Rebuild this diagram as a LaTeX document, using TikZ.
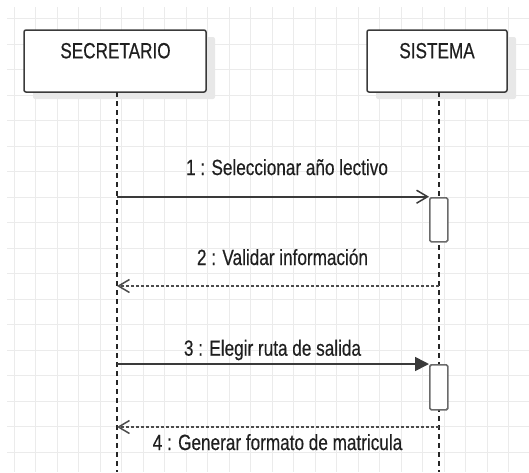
\documentclass[tikz,border=0pt]{standalone}
\usepackage{fontspec}
\setmainfont{Liberation Sans}[FakeStretch=0.78,FakeBold=0.4]
\usetikzlibrary{arrows.meta}
\definecolor{gridc}{HTML}{EBEBEB}
\definecolor{linec}{HTML}{3A3A3A}
\definecolor{actc}{HTML}{6A6A6A}
\definecolor{txtc}{HTML}{1F1F1F}
\tikzset{
  actor/.style={draw=linec, line width=1.5pt, fill=white, rounded corners=2pt},
  shadowbox/.style={fill=black!9, draw=none, rounded corners=2pt},
  lifeline/.style={draw=black!85, line width=1.3pt, dash pattern=on 5pt off 4pt},
  actbox/.style={draw=actc, line width=1.6pt, fill=white, rounded corners=1.5pt},
  msg/.style={draw=linec, line width=1.6pt},
  ret/.style={draw=black!70, line width=1.4pt, dash pattern=on 3pt off 2pt},
  openhead/.style={-{Straight Barb[length=11pt,width=13pt,line width=1.5pt]}},
  fullhead/.style={-{Triangle[length=14pt,width=14pt]}},
  lbl/.style={anchor=base, inner sep=0pt, text=txtc, font=\fontsize{22}{26}\selectfont},
}
\begin{document}
\begin{tikzpicture}[x=1pt, y=-1pt]
\useasboundingbox (0,0) rectangle (529,472);
% grid
\foreach \k in {0,...,24} {\draw[gridc, line width=0.9pt] ({14+21.5*\k},7) -- ({14+21.5*\k},472);}
\foreach \k in {0,...,17} {\draw[gridc, line width=0.9pt] (7,{18.7+25.5*\k}) -- (529,{18.7+25.5*\k});}
% shadows
\fill[shadowbox] (33,37) rectangle (215,99);
\fill[shadowbox] (376,37) rectangle (516,99);
% actors
\draw[actor] (24,30) rectangle (206,92);
\draw[actor] (367,30) rectangle (507,92);
\node[lbl] (secl) at (115.5,58.3) {SECRETARIO};
\node[lbl] (sisl) at (437,58.3) {SISTEMA};
% lifelines
\coordinate (sectop) at (117,92);
\coordinate (secbot) at (117,472);
\coordinate (sistop) at (439,92);
\coordinate (sisbot) at (439,472);
\draw[lifeline] (sectop) -- (secbot);
\draw[lifeline] (sistop) -- (sisbot);
% activation boxes
\node[actbox, minimum width=18pt, minimum height=44pt, inner sep=0pt, anchor=north west] (act1) at (429,197) {};
\node[actbox, minimum width=18pt, minimum height=45pt, inner sep=0pt, anchor=north west] (act2) at (429,364) {};
% message coordinates
\coordinate (m1s) at (117,196.7);
\coordinate (m2s) at (439,286);
\coordinate (m2e) at (117,286);
\coordinate (m3s) at (117,364);
\coordinate (m4s) at (439,427);
\coordinate (m4e) at (117,427);
% messages
\draw[msg, openhead] (m1s) -- (m1s -| act1.west);
\draw[ret, openhead] (m2s) -- (m2e);
\draw[msg, fullhead] (m3s) -- (m3s -| act2.west);
\draw[ret, openhead] (m4s) -- (m4e);
% labels
\node[lbl] (l1) at (287,175) {1 : Seleccionar año lectivo};
\node[lbl] (l2) at (282.5,265) {2 : Validar información};
\node[lbl] (l3) at (272.5,355.7) {3 : Elegir ruta de salida};
\node[lbl] (l4) at (277.5,450) {4 : Generar formato de matricula};
\end{tikzpicture}
\end{document}
